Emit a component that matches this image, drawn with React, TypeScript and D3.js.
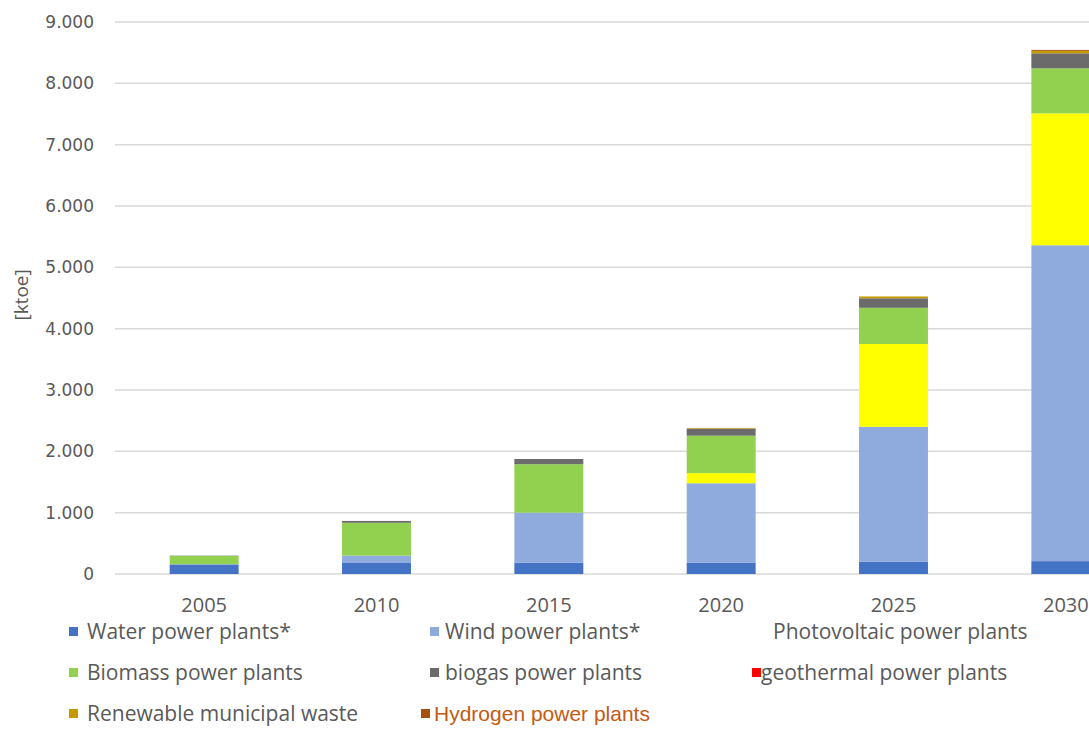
import React from "react";
import * as d3 from "d3";

const years = ["2005", "2010", "2015", "2020", "2025", "2030"];
const water = [155, 180, 185, 185, 200, 210];
const wind = [5, 120, 815, 1295, 2200, 5150];
const photovoltaic = [0, 0, 0, 165, 1350, 2150];
const biomass = [135, 535, 790, 610, 590, 735];
const biogas = [5, 30, 85, 115, 155, 245];
const geothermal = [0, 0, 0, 0, 0, 0];
const municipalWaste = [0, 0, 0, 10, 30, 40];
const hydrogen = [0, 0, 0, 0, 0, 15];

const seriesNames = [
  "Water power plants*",
  "Wind power plants*",
  "Photovoltaic power plants",
  "Biomass power plants",
  "biogas power plants",
  "geothermal power plants",
  "Renewable municipal waste",
  "Hydrogen power plants",
];
const seriesValues = [water, wind, photovoltaic, biomass, biogas, geothermal, municipalWaste, hydrogen];
const seriesColors = ["#4472C4", "#8FAADC", "#FFFF00", "#92D050", "#6B6B6B", "#FF0000", "#C49A00", "#A5500F"];
const yTicks = [0, 1000, 2000, 3000, 4000, 5000, 6000, 7000, 8000, 9000];

export default function App() {
  const W = 1089;
  const H = 754;
  const plotLeft = 118;
  const plotRight = 1152;
  const plotTop = 22;
  const plotBottom = 574;

  const x = d3.scaleBand<string>().domain(years).range([plotLeft, plotRight]).paddingInner(0.6).paddingOuter(0.3);
  const y = d3.scaleLinear().domain([0, 9000]).range([plotBottom, plotTop]);

  const table = years.map((yr, i) => {
    const row: any = { year: yr };
    seriesNames.forEach((n, s) => (row[n] = seriesValues[s][i]));
    return row;
  });
  const stacked = d3.stack<any>().keys(seriesNames)(table);
  const fmt = (v: number) => d3.format(",")(v).replace(/,/g, ".");

  const textColor = "#595959";
  const font = "'Open Sans', 'Noto Sans', sans-serif";
  const tickFont = "'DejaVu Sans', sans-serif";

  const legend = [
    { i: 0, mx: 69, tx: 87, row: 0 },
    { i: 1, mx: 430, tx: 445, row: 0 },
    { i: 2, mx: -100, tx: 773, row: 0 },
    { i: 3, mx: 69, tx: 87, row: 1 },
    { i: 4, mx: 430, tx: 445, row: 1 },
    { i: 5, mx: 752, tx: 761, row: 1 },
    { i: 6, mx: 69, tx: 87, row: 2 },
    { i: 7, mx: 421, tx: 434, row: 2 },
  ];
  const rowY = [631, 672, 713];

  return (
    <div style={{ position: "absolute", left: 0, top: 0 }}>
      <svg width={W} height={H} style={{ display: "block", background: "#fff", overflow: "hidden" }}>
        {yTicks.map((t) => (
          <g key={t}>
            <line x1={115} x2={W} y1={y(t)} y2={y(t)} stroke="#D9D9D9" strokeWidth={1.5} />
            <text x={94} y={y(t)} dy="0.36em" textAnchor="end" fontSize={17} fill={textColor} fontFamily={tickFont}>
              {fmt(t)}
            </text>
          </g>
        ))}
        <text
          transform={`translate(28, ${y(4550)}) rotate(-90)`}
          textAnchor="middle"
          fontSize={19}
          fill={textColor}
          fontFamily={font}
        >
          [ktoe]
        </text>
        {stacked.map((layer, s) => (
          <g key={s} fill={seriesColors[s]}>
            {layer.map((d, i) =>
              d[1] - d[0] > 0 ? (
                <rect
                  key={i}
                  x={x(years[i])}
                  width={x.bandwidth()}
                  y={y(d[1])}
                  height={y(d[0]) - y(d[1])}
                />
              ) : null
            )}
          </g>
        ))}
        {years.map((yr) => (
          <text
            key={yr}
            x={(x(yr) as number) + x.bandwidth() / 2}
            y={605}
            dy="0.36em"
            textAnchor="middle"
            fontSize={20}
            fill={textColor}
            fontFamily={font}
          >
            {yr}
          </text>
        ))}
        {legend.map((l) => (
          <g key={l.i}>
            {l.mx > 0 && (
              <rect x={l.mx} y={rowY[l.row] - 4} width={9} height={9} fill={seriesColors[l.i]} />
            )}
            <text
              x={l.tx}
              y={rowY[l.row]}
              dy="0.36em"
              fontSize={21}
              fill={l.i === 7 ? "#C55A11" : textColor}
              fontFamily={l.i === 7 ? "'Liberation Sans', Arial, sans-serif" : font}
            >
              {seriesNames[l.i]}
            </text>
          </g>
        ))}
      </svg>
    </div>
  );
}
